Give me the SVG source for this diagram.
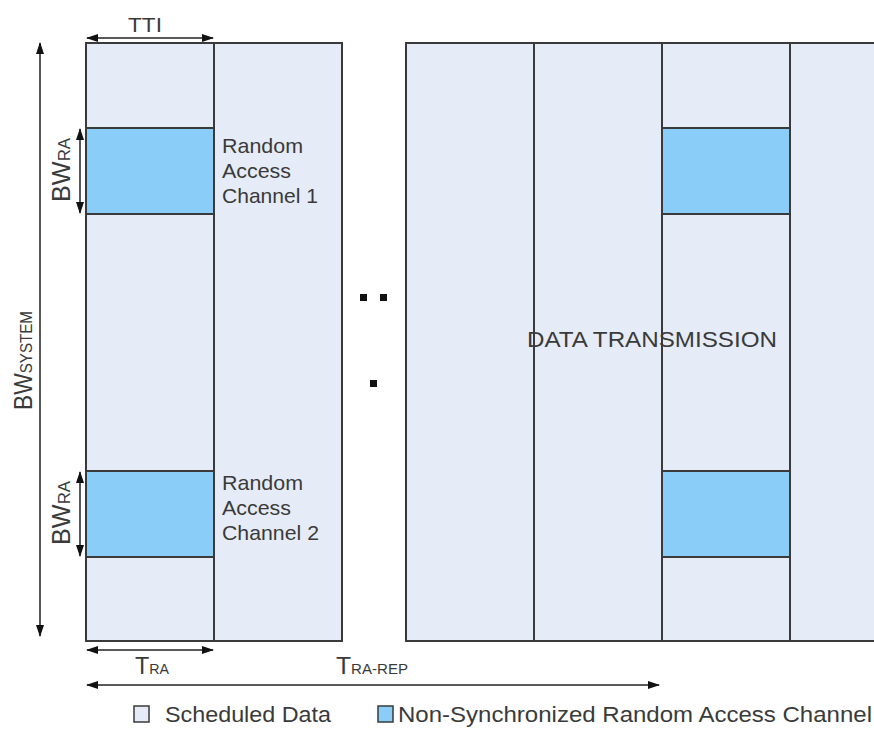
<svg xmlns="http://www.w3.org/2000/svg" width="874" height="751" viewBox="0 0 874 751">
<defs>
<style>
.sd{fill:#E6ECF7;stroke:#3a3a3a;stroke-width:2}
.ra{fill:#89CDF8;stroke:#3a3a3a;stroke-width:2}
.ln{stroke:#3a3a3a;stroke-width:2;fill:none}
.dim{stroke:#222;stroke-width:1.5;fill:none;marker-start:url(#a);marker-end:url(#a)}
.t{font-family:"Liberation Sans",Arial,sans-serif;font-size:21px;fill:#3a3a3a}
.s{font-size:14px}
</style>
<marker id="a" viewBox="0 0 12 10" refX="11" refY="5" markerWidth="12" markerHeight="10" markerUnits="userSpaceOnUse" orient="auto-start-reverse"><path d="M0,1 L12,5 L0,9 z" fill="#111"/></marker>
</defs>
<rect width="874" height="751" fill="#fff"/>
<g id="left-block">
<rect class="sd" x="86" y="43" width="256" height="598"/>
<line class="ln" x1="214" y1="43" x2="214" y2="641"/>
<rect class="ra" x="86" y="128" width="128" height="86"/>
<rect class="ra" x="86" y="471" width="128" height="86"/>
<text class="t" x="222" y="153" textLength="81" lengthAdjust="spacingAndGlyphs">Random</text>
<text class="t" x="222" y="178" textLength="69" lengthAdjust="spacingAndGlyphs">Access</text>
<text class="t" x="222" y="203" textLength="96" lengthAdjust="spacingAndGlyphs">Channel 1</text>
<text class="t" x="222" y="490" textLength="81" lengthAdjust="spacingAndGlyphs">Random</text>
<text class="t" x="222" y="515" textLength="69" lengthAdjust="spacingAndGlyphs">Access</text>
<text class="t" x="222" y="540" textLength="97" lengthAdjust="spacingAndGlyphs">Channel 2</text>
</g>
<g id="right-block">
<rect class="sd" x="406" y="43" width="470" height="598"/>
<line class="ln" x1="534" y1="43" x2="534" y2="641"/>
<line class="ln" x1="662" y1="43" x2="662" y2="641"/>
<line class="ln" x1="790" y1="43" x2="790" y2="641"/>
<rect class="ra" x="662" y="128" width="128" height="86"/>
<rect class="ra" x="662" y="471" width="128" height="86"/>
<text class="t" x="527" y="347" style="font-size:22px" textLength="250" lengthAdjust="spacingAndGlyphs">DATA TRANSMISSION</text>
</g>
<g id="dots" fill="#111">
<rect x="360" y="294" width="7" height="7"/>
<rect x="380" y="294" width="7" height="7"/>
<rect x="370" y="380" width="7" height="7"/>
</g>
<g id="connectors">
<line class="dim" x1="87" y1="38" x2="213" y2="38"/>
<line class="dim" x1="40" y1="43" x2="40" y2="636"/>
<line class="dim" x1="80" y1="129" x2="80" y2="213"/>
<line class="dim" x1="80" y1="472" x2="80" y2="556"/>
<line class="dim" x1="87" y1="650" x2="213" y2="650"/>
<line class="dim" x1="87" y1="685" x2="659" y2="685"/>
</g>
<g id="labels">
<text class="t" x="128" y="32" textLength="34" lengthAdjust="spacingAndGlyphs">TTI</text>
<text class="t" x="135" y="674" style="font-size:23px" textLength="34" lengthAdjust="spacingAndGlyphs">T<tspan class="s">RA</tspan></text>
<text class="t" x="336" y="674" style="font-size:23px" textLength="72" lengthAdjust="spacingAndGlyphs">T<tspan class="s">RA-REP</tspan></text>
<text class="t" transform="translate(70,202) rotate(-90) scale(1,1.2)" textLength="64" lengthAdjust="spacingAndGlyphs">BW<tspan class="s">RA</tspan></text>
<text class="t" transform="translate(70,545) rotate(-90) scale(1,1.2)" textLength="64" lengthAdjust="spacingAndGlyphs">BW<tspan class="s">RA</tspan></text>
<text class="t" transform="translate(32,410) rotate(-90) scale(1,1.2)" textLength="99" lengthAdjust="spacingAndGlyphs">BW<tspan class="s">SYSTEM</tspan></text>
</g>
<g id="legend">
<rect class="sd" x="134" y="706" width="15" height="16" style="stroke-width:1.5"/>
<text class="t" x="165" y="722" style="font-size:22px" textLength="166" lengthAdjust="spacingAndGlyphs">Scheduled Data</text>
<rect class="ra" x="378" y="706" width="15" height="16" style="stroke-width:1.5"/>
<text class="t" x="398" y="722" style="font-size:22px" textLength="474" lengthAdjust="spacingAndGlyphs">Non-Synchronized Random Access Channel</text>
</g>
</svg>
